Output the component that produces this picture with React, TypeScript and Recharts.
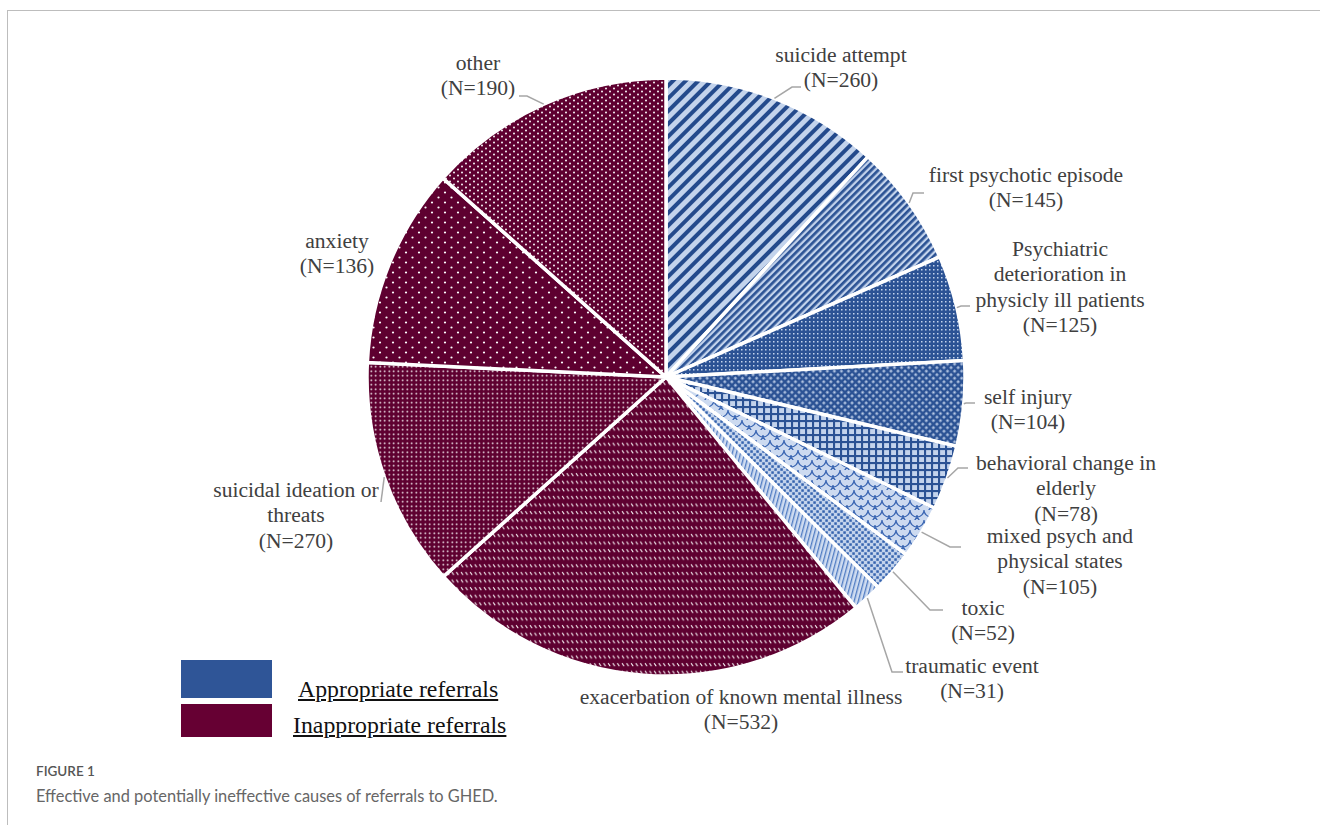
import { PieChart, Pie, Cell } from "recharts";

// causes of referral, clockwise from 12 o'clock
const CAUSES = [
  "suicide attempt",
  "first psychotic episode",
  "Psychiatric\ndeterioration in\nphysicly ill patients",
  "self injury",
  "behavioral change in\nelderly",
  "mixed psych and\nphysical states",
  "toxic",
  "traumatic event",
  "exacerbation of known mental illness",
  "suicidal ideation or\nthreats",
  "anxiety",
  "other",
];

// N printed in each label
const N_COUNTS = [260, 145, 125, 104, 78, 105, 52, 31, 532, 270, 136, 190];

// share of the pie (%) as drawn
const SLICE_SHARE = [11.8, 6.6, 5.7, 4.6, 3.5, 2.9, 2.3, 1.6, 24.3, 12.4, 10.8, 13.4];

const PATTERNS = ["p1", "p2", "p3", "p4", "p5", "p6", "p7", "p8", "m1", "m2", "m3", "m4"];

const LEGEND_ITEMS = [
  { label: "Appropriate referrals", color: "#2F5597" },
  { label: "Inappropriate referrals", color: "#660033" },
];

// label placement (text centre x, first line y, leader bends)
const LABEL_LAYOUT: { x: number; y: number; leader?: number[][] }[] = [
  { x: 841, y: 55, leader: [[792, 87], [801, 87]] },
  { x: 1026, y: 175, leader: [[913, 193], [924, 193]] },
  { x: 1060, y: 249, leader: [[961, 306], [970, 306]] },
  { x: 1028, y: 397, leader: [[966, 403], [975, 403]] },
  { x: 1066, y: 463, leader: [[958, 468], [968, 468]] },
  { x: 1060, y: 536, leader: [[950, 547], [961, 547]] },
  { x: 983, y: 608, leader: [[930, 610], [943, 610]] },
  { x: 972, y: 666, leader: [[892, 672], [903, 672]] },
  { x: 741, y: 697 },
  { x: 296, y: 490, leader: [[381, 502]] },
  { x: 337, y: 241 },
  { x: 478, y: 63, leader: [[527, 96], [519, 96]] },
];

const RAD = Math.PI / 180;
const LINE_H = 25.3;
const LIGHT = "#C3D3EC";
const BLUE = "#2B5294";
const MAROON = "#5E0030";
const SERIF = "'Liberation Serif', 'Times New Roman', serif";

const data = CAUSES.map((c, i) => ({ name: c, share: SLICE_SHARE[i], n: N_COUNTS[i] }));

const renderLabel = (props: any) => {
  const { cx, cy, midAngle, outerRadius, index } = props;
  const lay = LABEL_LAYOUT[index];
  const sx = cx + outerRadius * Math.cos(-midAngle * RAD);
  const sy = cy + outerRadius * Math.sin(-midAngle * RAD);
  const lines = [...CAUSES[index].split("\n"), `(N=${N_COUNTS[index]})`];
  return (
    <g>
      {lay.leader && (
        <polyline
          points={[[sx, sy], ...lay.leader].map((p) => p.join(",")).join(" ")}
          fill="none"
          stroke="#A6A6A6"
          strokeWidth={1.5}
        />
      )}
      <text
        x={lay.x}
        y={lay.y}
        textAnchor="middle"
        dominantBaseline="central"
        fill="#404040"
        style={{ fontFamily: SERIF, fontSize: 21.6 }}
      >
        {lines.map((l, i) => (
          <tspan key={i} x={lay.x} dy={i === 0 ? 0 : LINE_H}>
            {l}
          </tspan>
        ))}
      </text>
    </g>
  );
};

function Patterns() {
  return (
    <defs>
      {/* blue: appropriate */}
      <pattern id="p1" width="9" height="9" patternUnits="userSpaceOnUse" patternTransform="rotate(45)">
        <rect width="9" height="9" fill={LIGHT} />
        <rect width="4" height="9" fill="#244A8C" />
      </pattern>
      <pattern id="p2" width="5" height="5" patternUnits="userSpaceOnUse" patternTransform="rotate(45)">
        <rect width="5" height="5" fill={LIGHT} />
        <rect width="2.7" height="5" fill={BLUE} />
      </pattern>
      <pattern id="p3" width="4" height="4" patternUnits="userSpaceOnUse">
        <rect width="4" height="4" fill={BLUE} />
        <rect x="1" y="1" width="1.5" height="1.5" fill={LIGHT} />
      </pattern>
      <pattern id="p4" width="5" height="5" patternUnits="userSpaceOnUse" patternTransform="rotate(45)">
        <rect width="5" height="5" fill={BLUE} />
        <rect x="1.3" y="1.3" width="2.3" height="2.3" fill={LIGHT} />
      </pattern>
      <pattern id="p5" width="7" height="7" patternUnits="userSpaceOnUse">
        <rect width="7" height="7" fill={LIGHT} />
        <rect width="7" height="2.1" fill={BLUE} />
        <rect width="2.1" height="7" fill={BLUE} />
      </pattern>
      <pattern id="p6" width="14" height="10" patternUnits="userSpaceOnUse">
        <rect width="14" height="10" fill="#CCDAF0" />
        <path
          d="M0 0 A7 7 0 0 0 14 0 M-7 5 A7 7 0 0 0 7 5 M7 5 A7 7 0 0 0 21 5 M0 10 A7 7 0 0 0 14 10"
          fill="none"
          stroke="#3A66B2"
          strokeWidth={1.2}
        />
      </pattern>
      <pattern id="p7" width="6" height="6" patternUnits="userSpaceOnUse">
        <rect width="6" height="6" fill={LIGHT} />
        <rect x="0.3" y="0.3" width="2.5" height="2.5" fill="#3563AE" />
        <rect x="3.3" y="3.3" width="2.5" height="2.5" fill="#3563AE" />
      </pattern>
      <pattern id="p8" width="4" height="4" patternUnits="userSpaceOnUse" patternTransform="rotate(15)">
        <rect width="4" height="4" fill="#CFDCF1" />
        <rect width="1.3" height="4" fill="#4F7BC2" />
      </pattern>
      {/* maroon: inappropriate */}
      <pattern id="m1" width="4.6" height="7.6" patternUnits="userSpaceOnUse">
        <rect width="4.6" height="7.6" fill={MAROON} />
        <line x1="1" y1="2" x2="3" y2="5" stroke="#fff" strokeWidth={1} />
      </pattern>
      <pattern id="m2" width="4.5" height="4.5" patternUnits="userSpaceOnUse">
        <rect width="4.5" height="4.5" fill={MAROON} />
        <circle cx="2.25" cy="2.25" r="0.85" fill="#fff" />
      </pattern>
      <pattern id="m3" width="13" height="10" patternUnits="userSpaceOnUse">
        <rect width="13" height="10" fill={MAROON} />
        <circle cx="3" cy="2.5" r="1.1" fill="#fff" />
        <circle cx="9.5" cy="7.5" r="1.1" fill="#fff" />
      </pattern>
      <pattern id="m4" width="8" height="6" patternUnits="userSpaceOnUse">
        <rect width="8" height="6" fill={MAROON} />
        <circle cx="2" cy="1.5" r="0.95" fill="#fff" />
        <circle cx="6" cy="4.5" r="0.95" fill="#fff" />
      </pattern>
    </defs>
  );
}

export default function App() {
  return (
    <div
      style={{
        position: "absolute",
        left: 0,
        top: 0,
        width: 1320,
        height: 825,
        background: "#fff",
        overflow: "hidden",
      }}
    >
      {/* figure frame */}
      <div
        style={{
          position: "absolute",
          left: 7,
          top: 10,
          width: 1320,
          height: 830,
          borderLeft: "1.5px solid #BDBDBD",
          borderTop: "1.5px solid #BDBDBD",
        }}
      />
      <div style={{ position: "absolute", left: 0, top: 0 }}>
        <PieChart width={1320} height={825} margin={{ top: 0, right: 0, bottom: 0, left: 0 }}>
          <Patterns />
          <Pie
            data={data}
            dataKey="share"
            nameKey="name"
            cx={666}
            cy={377}
            outerRadius={299}
            startAngle={90}
            endAngle={-270}
            stroke="#fff"
            strokeWidth={3.5}
            label={renderLabel}
            labelLine={false}
            isAnimationActive={false}
          >
            {data.map((d, i) => (
              <Cell key={d.name} fill={`url(#${PATTERNS[i]})`} />
            ))}
          </Pie>
        </PieChart>
      </div>
      {/* legend */}
      <div style={{ position: "absolute", left: 181, top: 660 }}>
        {LEGEND_ITEMS.map((item, i) => (
          <div key={item.label} style={{ display: "flex", alignItems: "center", height: i === 0 ? 44 : 36 }}>
            <div
              style={{
                width: 91,
                height: i === 0 ? 38 : 33,
                background: item.color,
                alignSelf: "flex-start",
              }}
            />
            <span
              style={{
                marginLeft: i === 0 ? 117 - 91 : 112 - 91,
                fontFamily: SERIF,
                fontSize: 23.8,
                color: "#111",
                textDecoration: "underline",
                position: "relative",
                top: i === 0 ? 7 : 3,
              }}
            >
              {item.label}
            </span>
          </div>
        ))}
      </div>
      {/* caption */}
      <div
        style={{
          position: "absolute",
          left: 36,
          top: 763,
          fontFamily: "Lato, 'Open Sans', sans-serif",
          fontSize: 13.5,
          fontWeight: 600,
          color: "#555",
        }}
      >
        FIGURE 1
      </div>
      <div
        style={{
          position: "absolute",
          left: 36,
          top: 786,
          fontFamily: "Lato, 'Open Sans', sans-serif",
          fontSize: 16.4,
          color: "#666",
        }}
      >
        Effective and potentially ineffective causes of referrals to GHED.
      </div>
    </div>
  );
}
